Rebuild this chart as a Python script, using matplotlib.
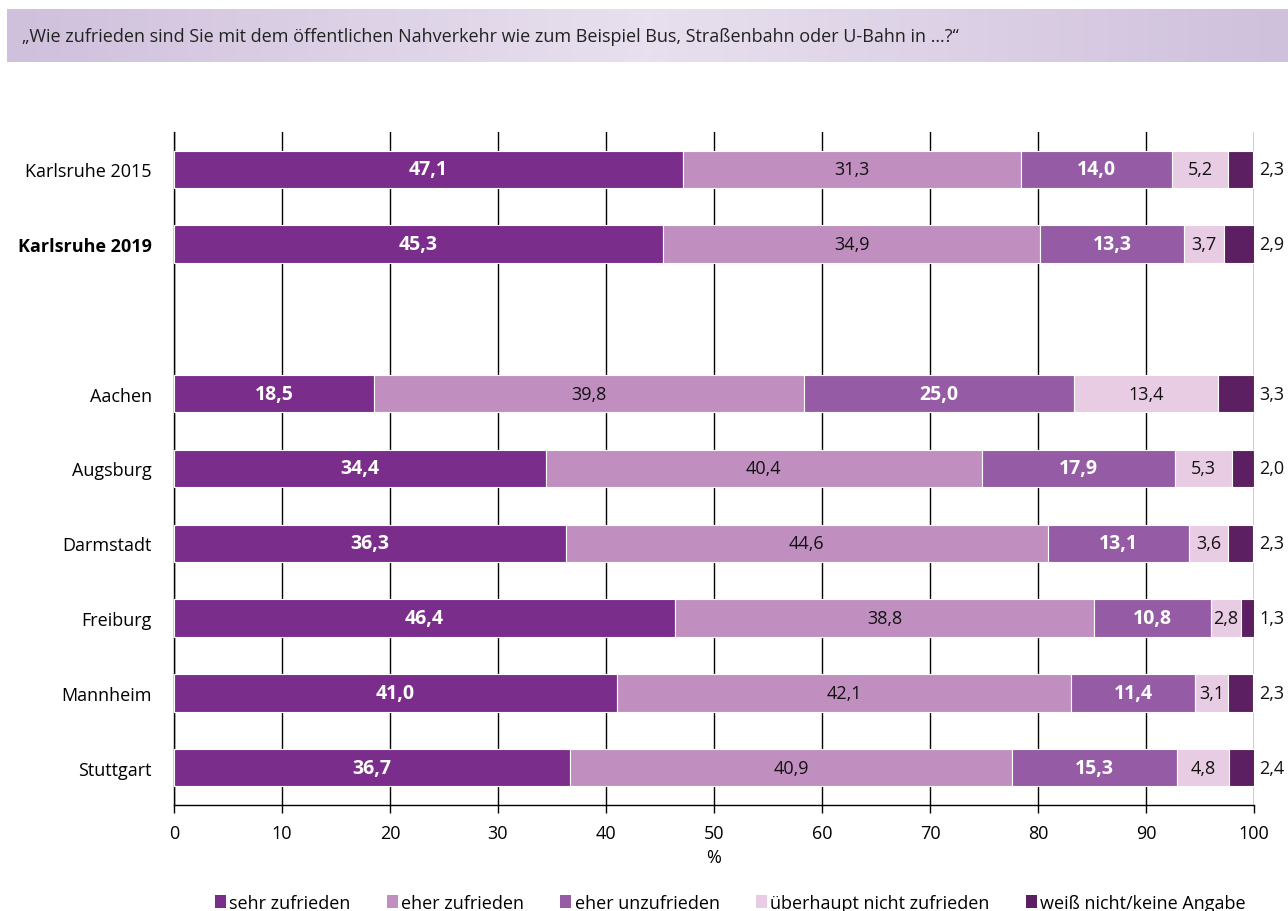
import numpy as np
import matplotlib.pyplot as plt
from matplotlib.patches import Patch
from matplotlib.colors import LinearSegmentedColormap

plt.rcParams['font.family'] = ['Open Sans', 'DejaVu Sans']

cities = ['Karlsruhe 2015', 'Karlsruhe 2019', 'Aachen', 'Augsburg', 'Darmstadt',
          'Freiburg', 'Mannheim', 'Stuttgart']
positions = [0, 1, 3, 4, 5, 6, 7, 8]
categories = ['sehr zufrieden', 'eher zufrieden', 'eher unzufrieden',
              'überhaupt nicht zufrieden', 'weiß nicht/keine Angabe']
sehr_zufrieden = [47.1, 45.3, 18.5, 34.4, 36.3, 46.4, 41.0, 36.7]
eher_zufrieden = [31.3, 34.9, 39.8, 40.4, 44.6, 38.8, 42.1, 40.9]
eher_unzufrieden = [14.0, 13.3, 25.0, 17.9, 13.1, 10.8, 11.4, 15.3]
nicht_zufrieden = [5.2, 3.7, 13.4, 5.3, 3.6, 2.8, 3.1, 4.8]
weiss_nicht = [2.3, 2.9, 3.3, 2.0, 2.3, 1.3, 2.3, 2.4]

series = [sehr_zufrieden, eher_zufrieden, eher_unzufrieden, nicht_zufrieden, weiss_nicht]
colors = ['#7b2d8b', '#c08fc0', '#955ba5', '#e8cce3', '#5c1f62']
white_bold = [True, False, True, False, False]

fig = plt.figure(figsize=(12.88, 9.12), dpi=100)

# header band with soft gradient
band = fig.add_axes([7 / 1288, 1 - 63 / 912, 1 - 7 / 1288, 53 / 912])
grad = np.abs(np.linspace(-1, 1, 256))[None, :]
cmap = LinearSegmentedColormap.from_list('band', ['#e8e0ee', '#cfc0dc'])
band.imshow(grad, aspect='auto', cmap=cmap, extent=[0, 1, 0, 1])
band.set_axis_off()
fig.text(22 / 1288, 1 - 37 / 912,
         '„Wie zufrieden sind Sie mit dem öffentlichen Nahverkehr wie zum Beispiel Bus, '
         'Straßenbahn oder U-Bahn in …?“',
         fontsize=13, va='center', ha='left', color='#222222')

ax = fig.add_axes([174 / 1288, 106 / 912, 1080 / 1288, 673 / 912])
left = np.zeros(len(cities))
for vals, col, wb, name in zip(series, colors, white_bold, categories):
    vals = np.array(vals)
    ax.barh(positions, vals, left=left, height=0.5, color=col, edgecolor='white',
            linewidth=0.8, label=name, zorder=3)
    if name != categories[-1]:
        for p, l, v in zip(positions, left, vals):
            ax.text(l + v / 2, p, f'{v:.1f}'.replace('.', ','), ha='center', va='center',
                    color='white' if wb else '#111111',
                    fontweight='bold' if wb else 'normal',
                    fontsize=14 if wb else 13, zorder=4)
    else:
        for p, v in zip(positions, vals):
            ax.text(100.5, p, f'{v:.1f}'.replace('.', ','), ha='left', va='center',
                    color='#111111', fontsize=13, clip_on=False)
    left += vals

ax.set_xlim(0, 100)
ax.set_ylim(8.5, -0.5)
ax.set_xticks(range(0, 101, 10))
ax.tick_params(axis='x', direction='out', length=6, width=1, labelsize=13, pad=8)
ax.tick_params(axis='y', length=0, labelsize=13, pad=16)
ax.set_yticks(positions)
ax.set_yticklabels(cities)
ax.get_yticklabels()[1].set_fontweight('bold')
ax.grid(axis='x', color='black', linewidth=1, zorder=0)
for s in ['top', 'right']:
    ax.spines[s].set_visible(False)
ax.spines['left'].set_linewidth(1)
ax.spines['bottom'].set_linewidth(1)
ax.set_xlabel('%', fontsize=13, labelpad=4)

handles = [Patch(facecolor=c, label=n) for c, n in zip(colors, categories)]
fig.legend(handles=handles, loc='center', bbox_to_anchor=(0.567, 1 - 904 / 912), ncol=5,
           frameon=False, fontsize=13, handlelength=0.6, handleheight=0.7,
           handletextpad=0.2, columnspacing=2.0)

fig.savefig('out.png', dpi=100)
